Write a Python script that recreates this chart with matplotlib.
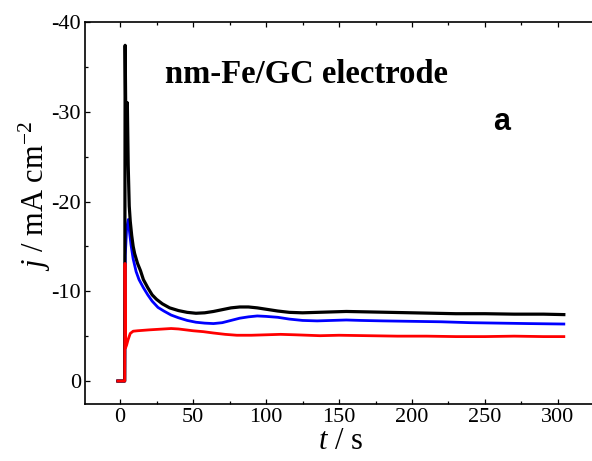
import matplotlib
matplotlib.use("Agg")
import matplotlib.pyplot as plt
from matplotlib.ticker import MultipleLocator, FuncFormatter

# Chronoamperometric transients (t in s, j in mA cm^-2)
t_black = [-1.5, 3.2, 3.5, 4.2, 5.0, 5.6, 6.3, 7, 8, 9, 10, 12, 14, 16, 19, 22, 25, 29, 34,
           40, 46, 52, 58, 64, 70, 76, 82, 88, 94, 100, 108, 116, 125, 135, 145, 155, 170,
           185, 200, 215, 230, 250, 270, 290, 304]
j_black = [0, 0, -37.4, -24.6, -31.0, -24.0, -19.5, -17.8, -16.2, -15.0, -14.2, -13.1, -12.3,
           -11.3, -10.4, -9.6, -9.1, -8.6, -8.15, -7.85, -7.65, -7.55, -7.6, -7.75, -7.95,
           -8.15, -8.25, -8.25, -8.15, -8.0, -7.8, -7.65, -7.6, -7.65, -7.7, -7.75, -7.7,
           -7.65, -7.6, -7.55, -7.5, -7.5, -7.45, -7.45, -7.4]

t_blue = [-1.5, 3.2, 3.6, 4.5, 5.7, 6.5, 7.5, 9, 11, 13, 16, 19, 22, 26, 30, 35, 40, 46, 52,
          58, 64, 70, 76, 82, 88, 94, 100, 108, 116, 125, 135, 145, 155, 165, 180, 200, 220,
          240, 260, 280, 304]
j_blue = [0, 0, -14.0, -17.0, -18.0, -16.6, -15.2, -13.6, -12.2, -11.3, -10.4, -9.6, -8.9,
          -8.2, -7.8, -7.35, -7.05, -6.75, -6.55, -6.45, -6.4, -6.5, -6.75, -7.0, -7.15,
          -7.25, -7.2, -7.1, -6.9, -6.75, -6.7, -6.75, -6.8, -6.75, -6.7, -6.65, -6.6, -6.5,
          -6.45, -6.4, -6.35]

t_red = [-1.5, 3.2, 3.4, 3.8, 4.5, 5.5, 7, 9, 12, 16, 20, 25, 30, 35, 40, 45, 50, 57, 64, 72,
         80, 90, 100, 110, 120, 137, 150, 170, 190, 210, 230, 250, 270, 290, 304]
j_red = [0, 0, -13.1, -3.7, -4.0, -4.6, -5.3, -5.55, -5.6, -5.65, -5.7, -5.75, -5.8, -5.85,
         -5.8, -5.7, -5.6, -5.5, -5.35, -5.2, -5.1, -5.1, -5.15, -5.2, -5.15, -5.05, -5.1,
         -5.05, -5.0, -5.0, -4.95, -4.95, -5.0, -4.95, -4.95]

x_ticks = [0, 50, 100, 150, 200, 250, 300]
y_ticks = [0, -10, -20, -30, -40]

plt.rcParams["font.family"] = ["Liberation Serif", "DejaVu Serif"]
plt.rcParams["mathtext.fontset"] = "custom"
plt.rcParams["mathtext.rm"] = "Liberation Serif"
plt.rcParams["mathtext.it"] = "Liberation Serif:italic"
plt.rcParams["axes.unicode_minus"] = False

fig = plt.figure(figsize=(5.92, 4.61), dpi=100)
ax = fig.add_axes([85 / 592, 57 / 461, 1 - 85 / 592, (404 - 22) / 461])

ax.plot(t_blue, j_blue, color="#0000ff", lw=2.0, solid_joinstyle="round")
ax.plot(t_black, j_black, color="black", lw=2.3, solid_joinstyle="round")
ax.plot(t_red, j_red, color="#ff0000", lw=2.0, solid_joinstyle="round")

ax.set_xlim(-24, 323.3)
ax.set_ylim(2.56, -40)

ax.set_xticks(x_ticks)
ax.set_yticks(y_ticks)
ax.xaxis.set_minor_locator(MultipleLocator(25))
ax.yaxis.set_minor_locator(MultipleLocator(5))
ax.yaxis.set_major_formatter(FuncFormatter(lambda v, p: "%d" % v))
ax.xaxis.set_major_formatter(FuncFormatter(lambda v, p: "%d" % v))

ax.spines["right"].set_visible(False)
for s in ("left", "bottom", "top"):
    ax.spines[s].set_linewidth(1.2)

ax.tick_params(which="both", direction="in", top=True, right=False, width=0.9)
ax.tick_params(which="major", length=3.5, labelsize=16, pad=3)
ax.tick_params(which="minor", length=2.5)

fig.text(35 / 592, 1 - 196 / 461, r"$j$ / mA cm$^{-2}$", rotation=90,
         ha="center", va="center", fontsize=22)
fig.text(340 / 592, 0.025, r"$t$ / s", ha="center", va="baseline", fontsize=22)

fig.text(165 / 592, 1 - 83 / 461, "nm-Fe/GC electrode", fontsize=23.5,
         fontweight="bold", ha="left", va="baseline")
fig.text(493 / 592, 1 - 130 / 461, "a", fontsize=22, fontweight="bold",
         family=["Liberation Sans", "DejaVu Sans"], ha="left", va="baseline")

fig.savefig("out.png", dpi=100)
